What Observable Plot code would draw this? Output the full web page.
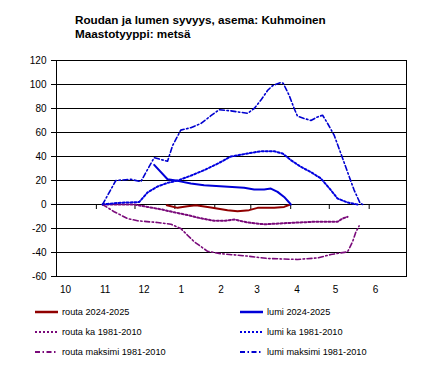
<!DOCTYPE html>
<html><head><meta charset="utf-8">
<script src="https://cdn.jsdelivr.net/npm/d3@7"></script>
<script src="https://cdn.jsdelivr.net/npm/@observablehq/plot@0.6"></script>
<style>
body{margin:0;background:#fff;}
#wrap{position:relative;width:430px;height:376px;font-family:"Liberation Sans",Arial,sans-serif;color:#000;}
#chart{position:absolute;left:0;top:0;}
#title{position:absolute;left:75px;top:13px;font-weight:bold;font-size:11.7px;line-height:14px;white-space:nowrap;}
.leg{position:absolute;height:12px;display:flex;align-items:center;font-size:9.2px;white-space:nowrap;}
.leg svg{margin-right:4px;}
</style></head>
<body>
<div id="wrap"><div id="chart"></div>
<div id="title">Roudan ja lumen syvyys, asema: Kuhmoinen<br>Maastotyyppi: metsä</div>
<div id="legend"></div></div>
<script>
// x values: days since 1 October 2024; y values: depth in cm
const monthTicks = ["2024-10-01","2024-11-01","2024-12-01","2025-01-01","2025-02-01","2025-03-01","2025-04-01","2025-05-01","2025-06-01"];
const monthLabels = ["10","11","12","1","2","3","4","5","6"];
const yTicks = [-60,-40,-20,0,20,40,60,80,100,120];

const routa2425Day = [85.7,94.1,101.8,108.3,120,132.9,140.7,149.7,156.3,169.2,176.9,181.6];
const routa2425Val = [-0.6,-2.8,-1.4,-0.6,-2.5,-4.7,-5.6,-4.7,-2.8,-2.8,-2,0];

const lumi2425Day = [75.9,86.3,94.1,104.4,114.7,130.3,145.8,153.6,161.4,166.6,171.8,176.9,180.8,182.1];
const lumi2425Val = [33,21,19.7,17.5,16,15,14,12.5,12.5,13.3,10.5,6.3,1.7,0];

const routaKaDay = [35.8,60.3,70.7,81.1,91.4,101.8,112.2,122.5,130.3,138.1,148.5,161.4,182.1,200.2,218.4,222.3,226.2];
const routaKaVal = [0,0,-2,-4,-6.5,-8.8,-11.5,-13.6,-13.6,-12.5,-15,-16.5,-15.3,-14.4,-14.4,-11.7,-10.3];

const lumiKaDay = [35.8,39.6,50,64.2,70.7,78.5,86.3,94.1,104.4,114.7,125.2,135.5,148.5,158.9,169.2,175.7,182.1,189.9,197.7,205.5,213.2,218.4,226.2,234];
const lumiKaVal = [0,0.5,1.5,2,10,15,18,20,24,28.6,34,40,42.5,44.4,44.4,42.5,37,31.4,27,21.7,12,5,1.7,0];

const routaMaxDay = [35.8,44.8,55.2,63,78.5,88.9,96.6,101.8,107,112.2,117.4,127.7,148.5,164,187.3,202.9,213.2,221,226.2,230.1,232.7,235.2];
const routaMaxVal = [0,-6,-11.7,-13.6,-15,-16.4,-20,-25.6,-31,-35,-39,-41,-43,-45,-45.8,-44.5,-41.7,-40.3,-39.5,-31,-22.8,-17.8];

const lumiMaxDay = [35.8,46.1,57.8,65.5,73.3,75.9,86.3,90.2,96.6,104.4,112.2,120,126.4,135.5,148.5,153.6,158.9,164,167.9,174.4,176.2,180.8,184.7,187.3,192.5,197.7,202.9,206.8,210.7,215.8,221,226.2,231.3,236,238];
const lumiMaxVal = [0,20,21,19,34,39,36,49,62,64,67.5,74,79,78,76,80,87,95,99,101.6,101,91,80,73.6,71.7,70,73,74.4,67.5,57.7,42.5,27,12,1,0];

const seriesNames = ["routa 2024-2025","lumi 2024-2025","routa ka 1981-2010","lumi ka 1981-2010","routa maksimi 1981-2010","lumi maksimi 1981-2010"];
const seriesColors = ["#900000","#0000d8","#7a0a7a","#0000e0","#7a0a7a","#0000d0"];
const seriesDash = [null,null,"2,2","2,2","5,2.5,1.5,2.5","5,2.5,1.5,2.5"];
const seriesWidth = [2,2,2,2,1.6,1.6];

const start = Date.UTC(2024,9,1);
const toDate = d => new Date(start + d*86400000);
const seriesDays = [routa2425Day,lumi2425Day,routaKaDay,lumiKaDay,routaMaxDay,lumiMaxDay];
const seriesVals = [routa2425Val,lumi2425Val,routaKaVal,lumiKaVal,routaMaxVal,lumiMaxVal];
const monthDates = monthTicks.map(s => new Date(s + "T00:00:00Z"));

const lineMarks = seriesNames.map((name,k) => {
  const data = seriesDays[k].map((d,i) => ({x: toDate(d), y: seriesVals[k][i]}));
  return Plot.line(data, {x:"x", y:"y", stroke: seriesColors[k], strokeWidth: seriesWidth[k], strokeDasharray: seriesDash[k] || undefined, strokeLinejoin:"round"});
});

const chart = Plot.plot({
  width:430, height:376,
  marginLeft:56, marginRight:24, marginTop:60, marginBottom:100,
  style:{fontFamily:'"Liberation Sans", Arial, sans-serif', fontSize:"10px", color:"#000", background:"transparent"},
  x:{type:"utc", domain:[new Date(start), new Date("2025-06-30T00:00:00Z")]},
  y:{domain:[-60,120]},
  marks:[
    Plot.ruleY(yTicks, {stroke:"#000", strokeWidth:1}),
    Plot.frame({stroke:"#000"}),
    Plot.axisY({ticks:yTicks, tickSize:5, tickPadding:5, tickFormat:d => String(d), label:null, fontSize:10}),
    Plot.axisX({ticks:monthDates, tickSize:0, tickPadding:9, tickFormat:(d,i) => monthLabels[i], textAnchor:"start", dx:3.5, label:null, fontSize:10}),
    Plot.ruleX(monthDates.slice(1), {x:d => d, y1:0, y2:0, insetBottom:-5, stroke:"#000"}),
    ...lineMarks
  ]
});
document.getElementById("chart").appendChild(chart);

// legend
const legendX = [35,240];
const legendY = [311.7,331.7,351.7];
const leg = document.getElementById("legend");
seriesNames.forEach((name,k) => {
  const col = k % 2, row = Math.floor(k/2);
  const div = document.createElement("div");
  div.className = "leg";
  div.style.left = legendX[col] + "px";
  div.style.top = (legendY[row] - 6) + "px";
  div.innerHTML = `<svg width="23" height="6"><line x1="0" x2="23" y1="3" y2="3" stroke="${seriesColors[k]}" stroke-width="${k<2?2.5:2}" ${seriesDash[k] ? `stroke-dasharray="${seriesDash[k]}"` : ""}/></svg><span>${name}</span>`;
  leg.appendChild(div);
});
</script>
</body></html>
